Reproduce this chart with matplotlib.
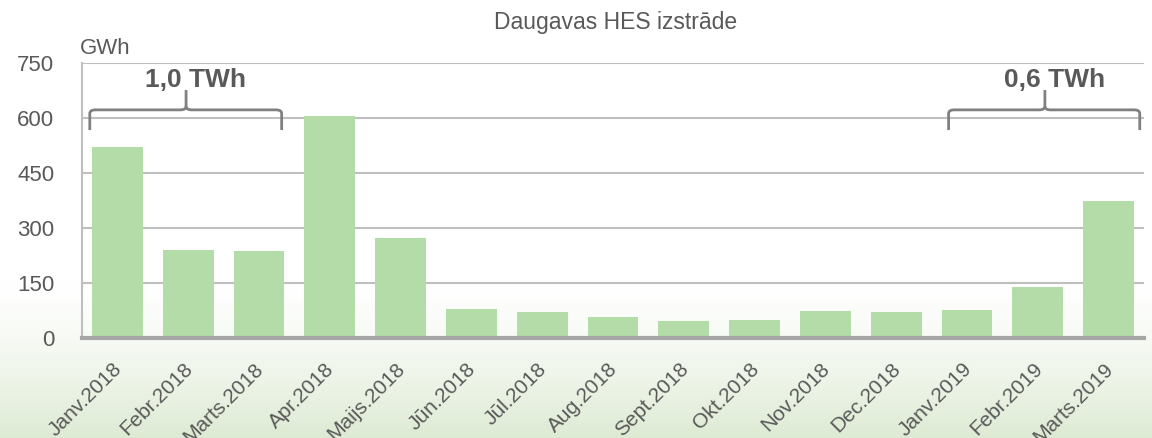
import numpy as np
import matplotlib.pyplot as plt
import matplotlib.transforms as mtransforms
from matplotlib.path import Path
from matplotlib.patches import PathPatch

plt.rcParams['font.family'] = ['Liberation Sans', 'DejaVu Sans']

# data (GWh)
months = ['Janv.2018', 'Febr.2018', 'Marts.2018', 'Apr.2018', 'Maijs.2018',
          'Jūn.2018', 'Jūl.2018', 'Aug.2018', 'Sept.2018', 'Okt.2018',
          'Nov.2018', 'Dec.2018', 'Janv.2019', 'Febr.2019', 'Marts.2019']
output_gwh = [522, 241, 238, 606, 273, 79, 71, 59, 48, 51, 74, 72, 77, 140, 374]
yticks = [0, 150, 300, 450, 600, 750]
brace_labels = ['1,0 TWh', '0,6 TWh']

grey = '#595959'
bar_color = '#b3dca8'

fig = plt.figure(figsize=(11.52, 4.38), dpi=100)

# soft white-to-green background
bg = fig.add_axes([0, 0, 1, 1], zorder=-10)
grad = np.linspace(0, 1, 256).reshape(-1, 1)
grad = np.clip((grad - 0.64) / 0.36, 0, 1) ** 1.4
top = np.array([1.0, 1.0, 1.0])
bottom = np.array([0.87, 0.92, 0.83])
img = top + (bottom - top) * grad[..., None]
bg.imshow(img, aspect='auto', extent=[0, 1, 0, 1], origin='upper')
bg.axis('off')

ax = fig.add_axes([82 / 1152, 1 - 338.3 / 438, (1144 - 82) / 1152, (338.3 - 63.3) / 438])
ax.patch.set_alpha(0)

x = np.arange(len(months))
ax.bar(x, output_gwh, width=0.72, color=bar_color, zorder=3)

ax.set_xlim(-0.5, len(months) - 0.5)
ax.set_ylim(0, 750)
ax.set_yticks(yticks)
ax.set_yticklabels([str(v) for v in yticks], fontsize=16, color=grey)
ax.yaxis.grid(True, color='#bfbfbf', linewidth=1.5, zorder=0)
ax.tick_params(axis='y', length=0, pad=20)
ax.set_xticks(x)
ax.set_xticklabels(months, rotation=45, ha='right', rotation_mode='anchor',
                   fontsize=15, color=grey)
ax.tick_params(axis='x', length=0, pad=15)
shift = mtransforms.ScaledTranslation(-5 / 100, 0, fig.dpi_scale_trans)
for lbl in ax.get_xticklabels():
    lbl.set_transform(lbl.get_transform() + shift)

for s in ['top', 'right']:
    ax.spines[s].set_visible(False)
ax.spines['left'].set_color('#bfbfbf')
ax.spines['left'].set_linewidth(1.5)
ax.spines['bottom'].set_color('#a6a6a6')
ax.spines['bottom'].set_linewidth(3)
ax.spines['bottom'].set_zorder(4)

fig.text(616 / 1152, 1 - 22 / 438, 'Daugavas HES izstrāde', ha='center', va='center',
         fontsize=16.5, color=grey)
fig.text(80 / 1152, 1 - 48 / 438, 'GWh', ha='left', va='center', fontsize=16, color=grey)


def brace(x0, x1, xm, label, lx):
    y_end, y_mid, y_tip = 568, 623, 677
    r = 0.08
    h = 10
    verts = [(x0, y_end), (x0, y_mid - h), (x0, y_mid), (x0 + r, y_mid),
             (xm - r, y_mid), (xm, y_mid), (xm, y_mid + h), (xm, y_tip)]
    codes = [Path.MOVETO, Path.LINETO, Path.CURVE3, Path.CURVE3,
             Path.LINETO, Path.CURVE3, Path.CURVE3, Path.LINETO]
    verts2 = [(x1, y_end), (x1, y_mid - h), (x1, y_mid), (x1 - r, y_mid),
              (xm + r, y_mid), (xm, y_mid), (xm, y_mid + h)]
    codes2 = [Path.MOVETO, Path.LINETO, Path.CURVE3, Path.CURVE3,
              Path.LINETO, Path.CURVE3, Path.CURVE3]
    for v, c in [(verts, codes), (verts2, codes2)]:
        ax.add_patch(PathPatch(Path(v, c), fill=False, edgecolor='#808080',
                               linewidth=2, zorder=5, clip_on=False))
    ax.text(lx, 704, label, ha='center', va='center', fontsize=19,
            fontweight='bold', color=grey, zorder=6)


brace(-0.39, 2.32, 0.97, brace_labels[0], 1.1)
brace(11.74, 14.44, 13.1, brace_labels[1], 13.23)

fig.savefig('out.png', dpi=100)
